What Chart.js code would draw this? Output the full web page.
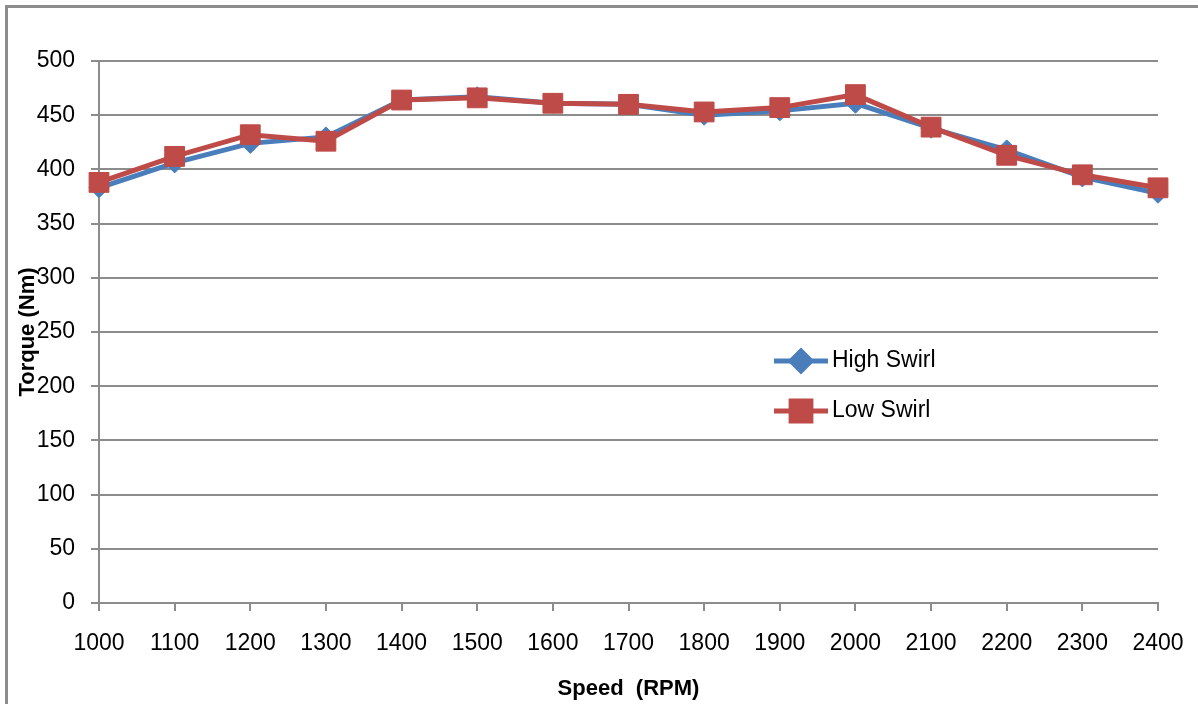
<!DOCTYPE html>
<html>
<head>
<meta charset="utf-8">
<script src="https://cdn.jsdelivr.net/npm/chart.js@4.4.1/dist/chart.umd.min.js"></script>
<style>
  html, body { margin: 0; padding: 0; background: #fff; }
  #wrap { position: relative; width: 1198px; height: 704px; overflow: hidden; }
  #frame { position: absolute; left: 5px; top: 5px; width: 1210px; height: 720px; border: 3px solid #8c8c8c; }
  canvas { position: absolute; left: 0; top: 0; }
</style>
</head>
<body>
<div id="wrap">
  <div id="frame"></div>
  <canvas id="torqueChart" width="1198" height="704"></canvas>
</div>
<script>
// Chart data
const speeds = ['1000', '1100', '1200', '1300', '1400', '1500', '1600', '1700',
                '1800', '1900', '2000', '2100', '2200', '2300', '2400'];
const highSwirl = [383, 406, 424, 430, 464, 467, 461, 460, 450, 454, 461, 438, 418, 393, 378];
const lowSwirl  = [388, 412, 432, 426, 464, 466, 461, 460, 453, 457, 469, 439, 413, 395, 383];
const yTicks = [0, 50, 100, 150, 200, 250, 300, 350, 400, 450, 500];

const FONT = "'Liberation Sans', Arial, sans-serif";
const GRID = '#8c8c8c';

// Axis titles and legend drawn at Excel-like positions
const overlayPlugin = {
  id: 'overlay',
  afterDraw(chart) {
    const ctx = chart.ctx;
    const area = chart.chartArea;
    ctx.save();
    ctx.fillStyle = '#000';
    ctx.textAlign = 'center';
    ctx.textBaseline = 'middle';

    // x title
    ctx.font = 'bold 22px ' + FONT;
    ctx.fillText('Speed  (RPM)', (area.left + area.right) / 2, 689);

    // y title (rotated, overlaps ticks like the original)
    ctx.save();
    ctx.translate(28, (area.top + area.bottom) / 2);
    ctx.rotate(-Math.PI / 2);
    ctx.fillText('Torque (Nm)', 0, 0);
    ctx.restore();

    // legend
    const rows = [361, 411];
    chart.data.datasets.forEach((ds, i) => {
      const y = rows[i];
      ctx.strokeStyle = ds.borderColor;
      ctx.lineWidth = 5;
      ctx.beginPath();
      ctx.moveTo(774, y);
      ctx.lineTo(828, y);
      ctx.stroke();
      Chart.helpers.drawPoint(ctx, {
        pointStyle: ds.pointStyle,
        radius: ds.pointRadius,
        borderWidth: 1
      }, 801, y);
      ctx.fillStyle = ds.borderColor;
      ctx.fill();
      ctx.fillStyle = '#000';
      ctx.font = '23px ' + FONT;
      ctx.textAlign = 'left';
      ctx.fillText(ds.label, 832, y);
    });
    ctx.restore();
  }
};

new Chart(document.getElementById('torqueChart'), {
  type: 'line',
  data: {
    labels: speeds,
    datasets: [{
      label: 'High Swirl',
      data: highSwirl,
      order: 2,
      borderColor: '#4a7ebb',
      backgroundColor: '#4a7ebb',
      borderWidth: 5,
      pointStyle: 'rectRot',
      pointRadius: 10,
      pointBorderWidth: 1,
      tension: 0
    }, {
      label: 'Low Swirl',
      data: lowSwirl,
      order: 1,
      borderColor: '#be4b48',
      backgroundColor: '#be4b48',
      borderWidth: 5,
      pointStyle: 'rect',
      pointRadius: 14,
      pointBorderWidth: 1,
      tension: 0
    }]
  },
  options: {
    responsive: false,
    animation: false,
    layout: { padding: { left: 0, right: 40, top: 61, bottom: 0 } },
    plugins: {
      legend: { display: false },
      tooltip: { enabled: false }
    },
    scales: {
      x: {
        offset: false,
        grid: { display: true, drawOnChartArea: false, color: GRID, lineWidth: 2, tickLength: 8 },
        border: { color: GRID, width: 2 },
        ticks: { color: '#000', font: { family: FONT, size: 23 }, padding: 19, maxRotation: 0 },
        afterFit(scale) {
          scale.height = 101;
          scale.paddingLeft = 0;
          scale.paddingRight = 0;
        }
      },
      y: {
        min: 0,
        max: 500,
        afterBuildTicks(scale) { scale.ticks = yTicks.map(v => ({ value: v })); },
        grid: { color: GRID, lineWidth: 2, tickLength: 8 },
        border: { color: GRID, width: 2 },
        ticks: { color: '#000', font: { family: FONT, size: 23 }, padding: 16 },
        afterFit(scale) { scale.width = 99; }
      }
    }
  },
  plugins: [overlayPlugin]
});
</script>
</body>
</html>
